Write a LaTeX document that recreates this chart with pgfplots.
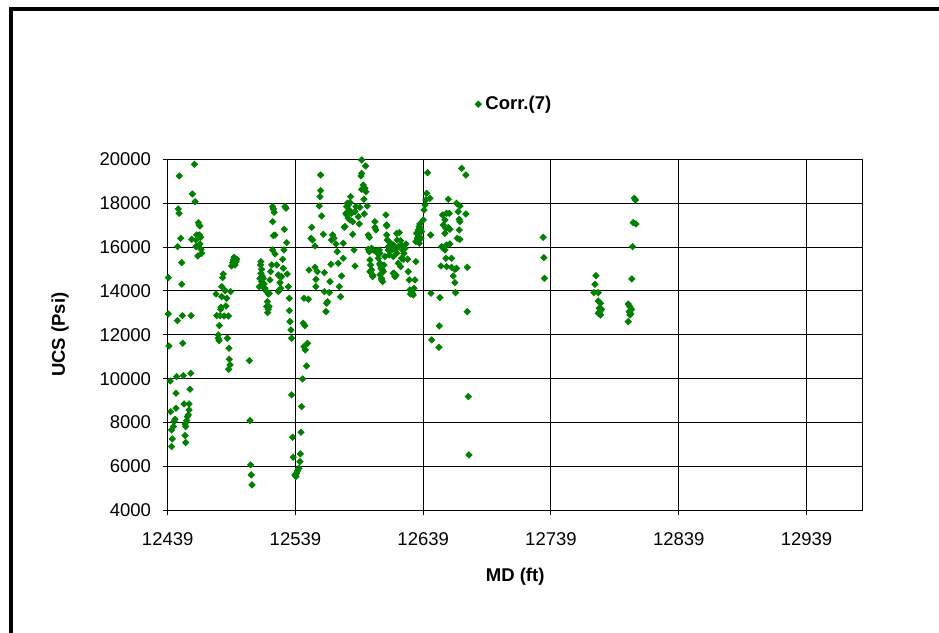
\documentclass[border=0pt]{standalone}
\usepackage{pgfplots}
\pgfplotsset{compat=1.18}
\usepackage{fontspec}
\setmainfont{Liberation Sans}
\definecolor{ptgreen}{RGB}{0,128,0}
\begin{document}
\begin{tikzpicture}[x=1pt,y=1pt]
\useasboundingbox (0,0) rectangle (469.5,316.5);
\fill[white] (0,0) rectangle (469.5,316.5);
% outer chart frame
\draw[line width=2pt] (5.25,0) -- (5.25,311.75) -- (469.5,311.75);
\begin{axis}[
    at={(83.85pt,61.35pt)}, anchor=south west,
    scale only axis, width=347.5pt, height=175.5pt,
    xmin=12439, xmax=12983, ymin=4000, ymax=20000,
    scaled ticks=false,
    xtick={12439,12539,12639,12739,12839,12939},
    xticklabels={12439,12539,12639,12739,12839,12939},
    ytick={4000,6000,8000,10000,12000,14000,16000,18000,20000},
    yticklabels={4000,6000,8000,10000,12000,14000,16000,18000,20000},
    tick pos=left,
    grid=major,
    grid style={black, line width=0.5pt},
    axis line style={line width=0.5pt},
    tick align=outside, major tick length=2.5pt,
    tick style={black, line width=0.5pt},
    font=\fontsize{9.25}{11}\selectfont,
    xticklabel style={yshift=-5pt},
    yticklabel style={xshift=-2.3pt},
    xlabel={\bfseries MD (ft)},
    ylabel={\bfseries UCS (Psi)},
    xlabel style={at={(axis description cs:0.5,-0.19)}, anchor=center},
    ylabel style={at={(axis description cs:-0.155,0.5)}, anchor=center},
    legend style={at={(0.5,1.157)}, anchor=center, draw=none,
        font=\fontsize{9.25}{11}\selectfont\bfseries},
]
\addplot[only marks, mark=square*, mark size=1.1pt, mark options={rotate=45}, color=ptgreen] coordinates {
(12439.5,14606) (12439.5,12950) (12440.0,11492) (12441.0,9897) (12441.3,8500)
(12442.0,7664) (12442.6,7254) (12442.0,6905) (12443.5,7816) (12444.0,8044)
(12444.7,8150) (12445.5,8652) (12445.5,9335) (12446.0,10095) (12446.6,12647)
(12446.8,16019) (12447.9,17538) (12447.3,17735) (12448.1,19239) (12449.2,16398)
(12450.0,15290) (12450.0,14302) (12450.5,12874) (12450.8,11614) (12451.3,10140)
(12451.8,8849) (12452.6,7938) (12453.1,7816) (12452.6,7406) (12453.1,7087)
(12453.9,8090) (12454.4,8272) (12455.2,8348) (12455.7,8576) (12455.7,8849)
(12456.5,9518) (12457.0,10247) (12457.3,12874) (12457.8,16353) (12458.3,18419)
(12459.9,19771) (12460.4,18070) (12461.2,16323) (12461.7,16049) (12462.5,15594)
(12463.0,17113) (12463.5,17006) (12464.3,16961) (12463.8,16551) (12464.8,16444)
(12464.3,16140) (12465.1,15897) (12465.6,15715) (12461.7,16551) (12461.2,16019)
(12476.8,13862) (12477.4,12874) (12478.6,11994) (12479.2,11735) (12478.6,11842)
(12479.4,12419) (12480.0,12874) (12480.5,13163) (12480.7,13254) (12481.3,13740)
(12481.3,14196) (12482.0,14606) (12482.5,14773) (12483.1,12859) (12483.9,14014)
(12484.6,13315) (12485.2,13664) (12485.7,11842) (12486.5,12859) (12487.0,11386)
(12487.2,10885) (12487.8,10626) (12486.7,10429) (12488.3,13968) (12489.0,15138)
(12489.8,15290) (12490.4,15411) (12490.9,15533) (12491.7,15183) (12492.5,15335)
(12493.0,15442)
(12502.9,10824) (12503.4,8090) (12503.9,6069) (12504.4,5614) (12505.0,5158)
(12512.0,15335) (12511.7,15183) (12512.5,14986) (12512.0,14804) (12513.0,14682)
(12511.2,14576) (12513.8,14576) (12512.5,14424) (12510.7,14196) (12513.3,14196)
(12514.4,14318) (12515.1,14120) (12516.4,13968) (12517.7,13862) (12518.5,13892)
(12517.0,13513) (12516.4,13285) (12517.7,13163) (12517.2,13011) (12518.3,13285)
(12519.0,14500) (12519.6,14880) (12520.4,15183) (12521.1,15867) (12521.7,16520)
(12523.0,16551) (12521.1,17158) (12522.4,17583) (12521.7,17735) (12521.1,17842)
(12523.0,15685) (12524.3,15183) (12525.6,14728) (12526.3,14682) (12526.9,14378)
(12526.3,14044) (12525.6,13968) (12527.4,14120) (12528.2,14652) (12529.5,15031)
(12529.0,15442) (12530.0,15867) (12530.3,16809) (12530.8,17842) (12531.6,17766)
(12532.1,16201) (12532.6,14773) (12533.4,14196) (12534.2,13664) (12534.2,13102)
(12534.7,12601) (12535.5,12222) (12536.0,11842)
(12536.0,9260) (12536.8,7330) (12537.3,6419) (12538.6,5614) (12539.4,5538)
(12540.0,5690) (12540.7,5811) (12541.7,5918) (12542.5,6221) (12542.8,6570)
(12543.3,7558) (12543.8,8728) (12544.6,9988) (12547.7,10581) (12546.7,11310)
(12545.7,11462) (12548.5,11614) (12545.1,12525) (12546.4,12419) (12545.7,13664)
(12549.1,13619) (12549.6,14956) (12551.7,16900) (12551.1,16399) (12552.4,16323)
(12554.3,16049) (12554.3,15077) (12556.1,14880) (12555.0,14530) (12555.0,14196)
(12557.6,17872) (12559.5,17416) (12558.2,18297) (12558.7,18571) (12558.7,19285)
(12560.8,16581) (12561.6,14834) (12561.6,13968) (12563.4,13437) (12562.9,13057)
(12564.2,13513) (12565.5,13923) (12566.0,14424) (12566.8,15214) (12567.3,16323)
(12568.1,16551) (12569.1,16399) (12570.7,16140) (12571.7,15791) (12572.5,15259)
(12573.3,14196) (12574.3,13740) (12575.1,14682) (12576.4,15487) (12576.4,16171)
(12577.2,16900) (12578.5,17538) (12579.6,17994)
(12590.8,19968) (12593.9,19695) (12590.8,19361) (12590.3,19239) (12592.1,18829)
(12593.4,18677) (12590.8,18632) (12594.2,18525) (12592.6,18176) (12595.2,17872)
(12589.5,17811) (12592.9,17507) (12588.2,17386) (12589.0,17052) (12583.8,16581)
(12584.8,15867) (12585.6,15138) (12579.1,17842) (12580.4,17918) (12581.7,18024)
(12582.2,18297) (12581.1,17690) (12583.0,17538) (12581.7,17234) (12583.8,17158)
(12577.8,16930) (12580.4,17310) (12579.1,17462) (12585.6,17614) (12586.4,17842)
(12596.0,16551) (12596.8,16444) (12596.0,15897) (12596.8,15791) (12597.3,15411)
(12597.8,15183) (12598.6,14956) (12599.4,14652) (12598.6,15943) (12601.2,17158)
(12602.0,16778) (12602.5,15837) (12603.3,15715) (12603.8,15487) (12604.6,15867)
(12605.1,15259) (12605.9,15031) (12605.1,14728) (12606.4,14576) (12607.2,14424)
(12607.7,14880) (12608.3,15183) (12609.0,15563) (12609.8,17462) (12610.4,17006)
(12610.4,16551) (12610.9,16323) (12611.7,15867) (12612.4,15639) (12613.0,16019)
(12613.5,16171) (12614.3,15867) (12615.6,15563) (12616.1,14804) (12616.9,14652)
(12617.7,14728) (12618.2,16626) (12618.7,16323) (12619.5,16019) (12619.5,15259)
(12600.0,15867) (12602.5,15791) (12605.1,15715) (12611.7,16019) (12613.0,15943)
(12614.3,15867) (12615.6,16095) (12616.9,15867) (12618.2,15715) (12605.1,15183)
(12607.2,14956) (12615.6,14804) (12616.9,14682) (12610.4,16961) (12601.2,16900)
(12597.3,14880) (12599.4,14728) (12606.5,14500)
(12620.3,16657) (12621.3,16292) (12622.1,16095) (12623.4,16019) (12622.9,15867)
(12624.7,15943) (12625.5,16140) (12623.9,15715) (12622.1,15487) (12623.4,15442)
(12621.3,15107) (12626.8,15442) (12627.3,14880) (12628.1,14500) (12628.6,14044)
(12629.9,13968) (12630.7,13892) (12631.8,14120) (12632.5,14500) (12633.3,15335)
(12629.1,13862) (12631.2,13816) (12633.3,16247) (12634.4,16399) (12633.8,16626)
(12635.1,16778) (12635.9,16930) (12636.4,17052) (12637.0,16809) (12637.7,16702)
(12637.2,16399) (12635.9,16171) (12635.1,16505) (12639.1,17234) (12639.6,17690)
(12640.4,17918) (12641.1,18146) (12641.7,18449) (12642.4,19391) (12644.3,18221)
(12644.8,16551) (12645.1,13892) (12652.1,13695) (12651.6,12404) (12645.6,11766)
(12651.3,11432) (12653.4,16019) (12654.7,15943) (12656.0,15867) (12657.3,16095)
(12659.9,16140) (12656.8,15487) (12661.2,15487) (12652.9,15138) (12657.3,15107)
(12661.2,15077) (12663.8,14986) (12665.1,15031) (12662.5,14682) (12663.8,14378)
(12664.3,13923) (12654.2,17462) (12656.0,17234) (12657.3,17538) (12659.4,17538)
(12654.7,17006) (12656.8,16854) (12658.6,16885) (12659.9,16809) (12656.0,16626)
(12658.6,18176) (12665.1,17994) (12667.7,17872) (12666.4,17614) (12667.2,17264)
(12667.7,17158) (12667.2,16778) (12665.7,16399) (12667.7,16353) (12672.4,17508)
(12673.5,15077) (12673.5,13057) (12669.1,19589) (12672.4,19285) (12674.3,9183)
(12674.8,6525)
(12732.9,16444) (12733.4,15518) (12733.9,14576)
(12774.2,14697) (12773.4,14302) (12772.6,13923) (12776.0,13923) (12776.0,13543)
(12777.8,13437) (12776.8,13209) (12778.6,13163) (12777.3,13057) (12777.8,12905)
(12776.0,12981)
(12804.2,18221) (12805.2,18146) (12803.4,17113) (12805.5,17052) (12802.9,16019)
(12802.3,14546) (12799.5,13406) (12800.8,13285) (12802.1,13163) (12800.2,13057)
(12801.5,12950) (12800.8,12905) (12799.5,12601)
};
\addlegendentry{Corr.(7)}
\end{axis}
\end{tikzpicture}
\end{document}
